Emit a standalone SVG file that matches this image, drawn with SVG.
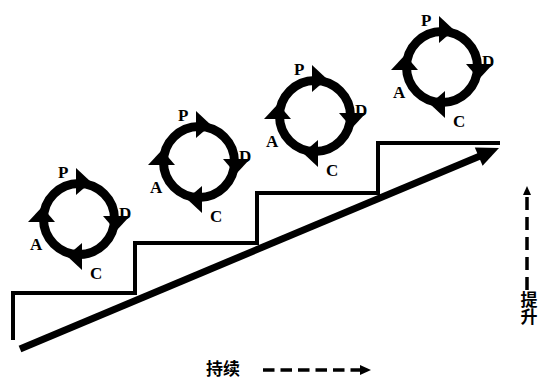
<svg xmlns="http://www.w3.org/2000/svg" xmlns:xlink="http://www.w3.org/1999/xlink" width="541" height="380" viewBox="0 0 541 380">
  <style>
    .step { fill: none; stroke: #000; stroke-width: 4; stroke-linejoin: miter; }
    .trend { fill: none; stroke: #000; stroke-width: 7; }
    .dash { fill: none; stroke: #000; stroke-width: 3.5; }
    .head { fill: #000; }
    .ltr { font-family: "Liberation Serif", "Times New Roman", serif; font-weight: bold; font-size: 17px; fill: #000; }
    .cjk { font-family: "Noto Sans CJK SC", "Noto Sans CJK TC", sans-serif; font-weight: bold; font-size: 17px; fill: #000; }
  </style>
  <defs>
    <!-- PDCA ring: thick circle with four clockwise arrowheads -->
    <g id="ring">
      <circle cx="0" cy="0" r="35.5" fill="none" stroke="#000" stroke-width="9"/>
      <polygon class="head" points="-3,-51 -3,-24 12,-37"/>
      <polygon class="head" points="51,-3 24,-3 37,12"/>
      <polygon class="head" points="3,51 3,24 -12,37"/>
      <polygon class="head" points="-51,3 -24,3 -37,-12"/>
    </g>
  </defs>

  <!-- staircase and rising trend arrow -->
  <g id="connectors">
    <path class="step" d="M13,340 V293 H135 V243 H257 V193 H378 V143 H500"/>
    <line class="trend" x1="20" y1="349" x2="480" y2="156"/>
    <polygon class="head" points="499,148 474.8,147.4 482.6,165.8"/>
  </g>

  <g id="cycle1" transform="translate(79,219)">
    <use xlink:href="#ring"/>
    <text class="ltr" x="-21" y="-41">P</text>
    <text class="ltr" x="40" y="0">D</text>
    <text class="ltr" x="11" y="60">C</text>
    <text class="ltr" x="-49" y="31">A</text>
  </g>
  <g id="cycle2" transform="translate(199,162)">
    <use xlink:href="#ring"/>
    <text class="ltr" x="-21" y="-41">P</text>
    <text class="ltr" x="40" y="0">D</text>
    <text class="ltr" x="11" y="60">C</text>
    <text class="ltr" x="-49" y="31">A</text>
  </g>
  <g id="cycle3" transform="translate(315,116)">
    <use xlink:href="#ring"/>
    <text class="ltr" x="-21" y="-41">P</text>
    <text class="ltr" x="40" y="0">D</text>
    <text class="ltr" x="11" y="60">C</text>
    <text class="ltr" x="-49" y="31">A</text>
  </g>
  <g id="cycle4" transform="translate(442,67)">
    <use xlink:href="#ring"/>
    <text class="ltr" x="-21" y="-41">P</text>
    <text class="ltr" x="40" y="0">D</text>
    <text class="ltr" x="11" y="60">C</text>
    <text class="ltr" x="-49" y="31">A</text>
  </g>

  <!-- vertical axis: improvement -->
  <g id="axis-up">
    <line class="dash" x1="527" y1="197" x2="527" y2="290" stroke-dasharray="13 7"/>
    <polygon class="head" points="527,186 531,195 523,195"/>
    <text class="cjk" x="529" y="291" writing-mode="vertical-rl">提升</text>
  </g>

  <!-- horizontal axis: continuity -->
  <g id="axis-right">
    <text class="cjk" x="206" y="375">持续</text>
    <line class="dash" x1="263" y1="370" x2="362" y2="370" stroke-dasharray="11.5 6"/>
    <polygon class="head" points="371,370 360,365 360,375"/>
  </g>
</svg>
